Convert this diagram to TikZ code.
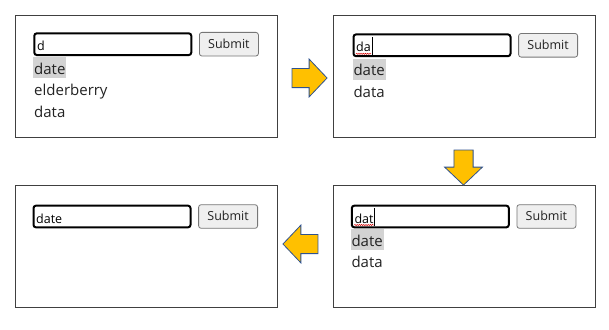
\documentclass[tikz,border=0pt]{standalone}
\usepackage{fontspec}
\setmainfont{Open Sans}
\usepackage{tikz}
\usetikzlibrary{positioning,shapes.arrows,decorations.pathmorphing}
\definecolor{frame}{RGB}{64,64,64}
\definecolor{gold}{RGB}{255,192,0}
\definecolor{goldline}{RGB}{47,82,143}
\definecolor{hilite}{RGB}{211,211,211}
\definecolor{btnfill}{RGB}{239,239,239}
\definecolor{btnline}{RGB}{118,118,118}
\definecolor{txt}{RGB}{34,34,34}

\begin{document}
\begin{tikzpicture}[x=1pt,y=-1pt,
  panel/.style={draw=frame,line width=1pt,minimum width=261.4pt,minimum height=121.7pt,inner sep=0},
  inbox/.style={draw=black,line width=2pt,rounded corners=2.5pt,minimum width=157pt,minimum height=21.7pt,inner sep=0},
  intext/.style={anchor=base west,inner sep=0,font=\fontsize{12.5}{15}\selectfont,text=black},
  btn/.style={draw=btnline,fill=btnfill,line width=0.8pt,rounded corners=2.5pt,minimum width=59pt,minimum height=23.6pt,inner sep=0,font=\fontsize{12.5}{15}\selectfont,text=txt,text depth=1.5pt},
  item/.style={anchor=base west,inner xsep=1pt,inner ysep=0,text height=17pt,text depth=4.3pt,font=\fontsize{15}{18}\selectfont,text=txt},
  chosen/.style={item,fill=hilite},
  step arrow/.style={single arrow,draw=goldline,fill=gold,line width=0.8pt,minimum height=35pt,inner sep=9.2pt,single arrow head extend=9.3pt,single arrow tip angle=93},
  caret/.style={draw=black,line width=0.8pt},
  squiggle/.style={draw=red!85!black,line width=0.5pt,decorate,decoration={snake,amplitude=0.6pt,segment length=2.2pt}}]
\useasboundingbox (0,0) rectangle (609,329);

% the four states of the form
\node[panel] (p1) at (146.5,76.3) {}; \node[panel] (p2) at (464.5,76.5) {};
\node[panel] (p3) at (146.5,246.7) {}; \node[panel] (p4) at (464.5,246.7) {};

% state 1: typed "d"
\node[inbox] (in1) at (112.8,44.2) {};
\node[btn,right=6.7pt of in1] (b1) {Submit};
\node[intext] (t1) at ([xshift=3.5pt,yshift=-6.5pt]in1.west) {d};
\node[chosen] (d1) at (33,74) {date};
\node[item] (e1) at (33,95.7) {elderberry};
\node[item] (f1) at (33,117.4) {data};

% state 2: typed "da"
\node[inbox] (in2) at (432,45.3) {};
\node[btn,right=6.7pt of in2] (b2) {Submit};
\node[intext] (t2) at ([xshift=3.5pt,yshift=-6.5pt]in2.west) {da};
\draw[caret] ([xshift=1pt,yshift=-3pt]t2.base east) -- ([xshift=1pt,yshift=15pt]t2.base east);
\draw[squiggle] ([yshift=-2pt]t2.base west) -- ([yshift=-2pt]t2.base east);
\node[chosen] (d2) at (352.3,75.7) {date};
\node[item] (f2) at (352.3,97.4) {data};

% state 3: typed "dat"
\node[inbox] (in4) at (430.3,216.5) {};
\node[btn,right=6.7pt of in4] (b4) {Submit};
\node[intext] (t4) at ([xshift=3.5pt,yshift=-6.5pt]in4.west) {dat};
\draw[caret] ([xshift=1pt,yshift=-3pt]t4.base east) -- ([xshift=1pt,yshift=15pt]t4.base east);
\draw[squiggle] ([yshift=-2pt]t4.base west) -- ([yshift=-2pt]t4.base east);
\node[chosen] (d4) at (350.3,246) {date};
\node[item] (f4) at (350.3,267.7) {data};

% state 4: "date" picked
\node[inbox] (in3) at (112,216.5) {};
\node[btn,right=6.7pt of in3] (b3) {Submit};
\node[intext] (t3) at ([xshift=3.5pt,yshift=-6.5pt]in3.west) {date};

% arrows between the states
\node[step arrow] (a1) at (305,78) {};
\node[step arrow,shape border rotate=270] (a2) at (463.5,163) {};
\node[step arrow,shape border rotate=180] (a3) at (305,244) {};
\end{tikzpicture}
\end{document}
